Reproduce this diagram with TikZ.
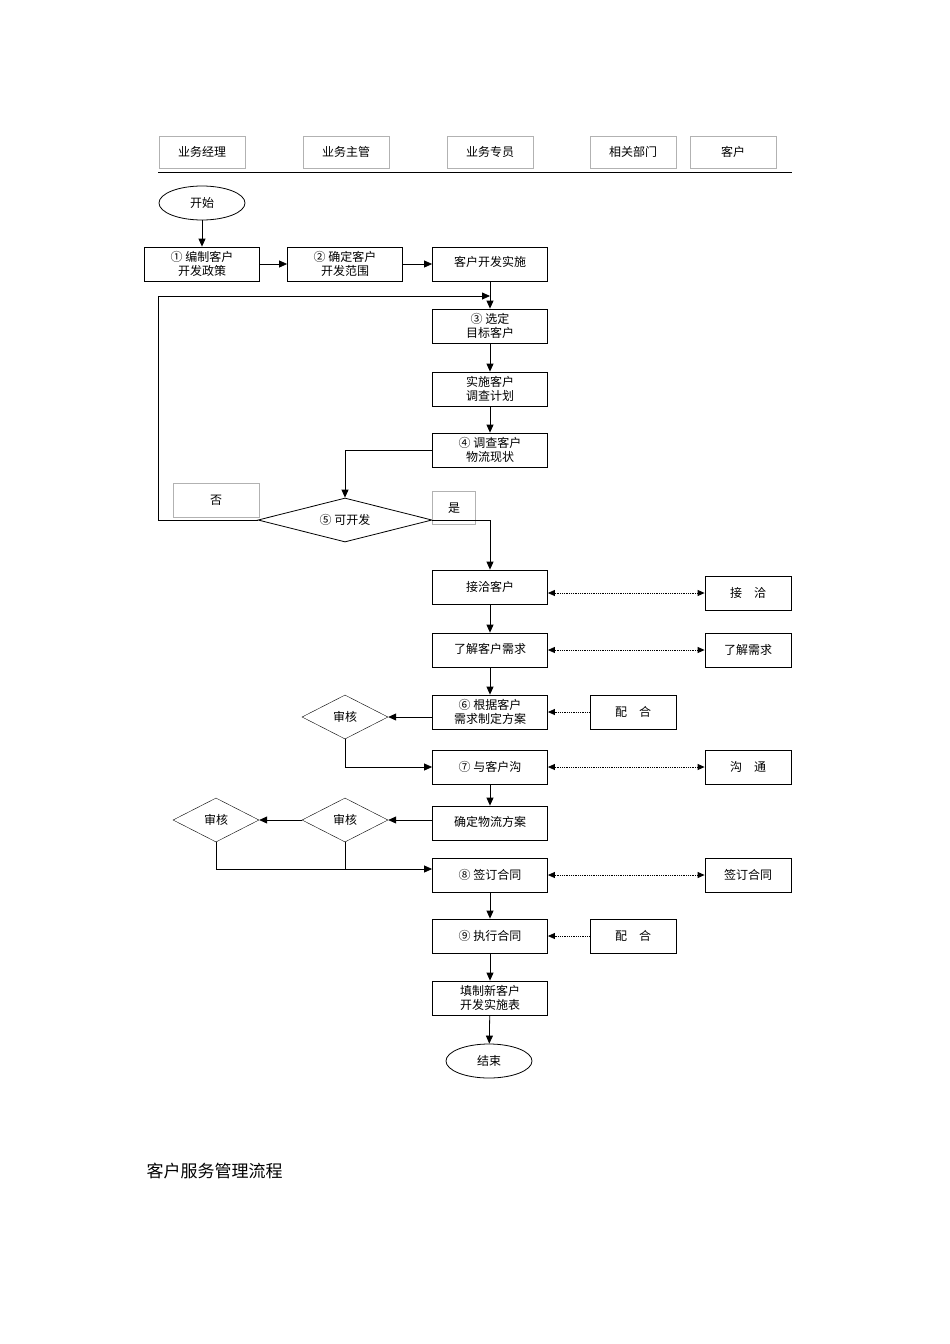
\documentclass[tikz,border=0pt]{standalone}
\usepackage{fontspec}
\setmainfont{Noto Sans CJK SC}
\usetikzlibrary{arrows.meta,shapes.geometric}
\begin{document}
\begin{tikzpicture}[x=1pt,y=-1pt,
 box/.style={draw,thick,minimum width=115pt,minimum height=34pt,inner sep=0pt,font=\fontsize{12}{14}\selectfont,align=center},
 side/.style={draw,thick,minimum width=86pt,minimum height=34pt,inner sep=0pt,font=\fontsize{12}{14}\selectfont},
 head/.style={draw=black!30,minimum width=86pt,minimum height=32pt,inner sep=0pt,font=\fontsize{12}{14}\selectfont},
 dia/.style={draw,diamond,aspect=2,inner sep=0pt,font=\fontsize{12}{14}\selectfont},
 arr/.style={thick,-{Triangle[length=8pt,width=7pt]}},
 dot/.style={densely dotted,thick,-{Triangle[length=7pt,width=6pt]}},
 ddot/.style={densely dotted,thick,{Triangle[length=7pt,width=6pt]}-{Triangle[length=7pt,width=6pt]}}]
\useasboundingbox (0,0) rectangle (950,1344);
\node[head] (h1) at (202,152) {业务经理};
\node[head] (h2) at (346,152) {业务主管};
\node[head] (h3) at (490,152) {业务专员};
\node[head] (h4) at (633,152) {相关部门};
\node[head] (h5) at (733,152) {客户};
\draw (158,172) -- (792,172);
\node[draw,thick,ellipse,minimum width=86pt,minimum height=34pt,font=\fontsize{12}{14}\selectfont] (st) at (202,203) {开始};
\node[box] (b1) at (202,264) {① 编制客户\\开发政策};
\node[box] (b2) at (345,264) {② 确定客户\\开发范围};
\node[box] (b3) at (490,264) {\\[-8pt]客户开发实施};
\node[box] (b4) at (490,326) {③ 选定\\目标客户};
\node[box] (b5) at (490,389) {实施客户\\调查计划};
\node[box] (b6) at (490,450) {④ 调查客户\\物流现状};
\node[dia,thick,minimum width=174pt,minimum height=44pt] (d5) at (345,520) {⑤ 可开发};
\node[head,minimum height=34pt] (no) at (216,500) {否};
\node[head,minimum width=43pt,minimum height=33pt] (yes) at (454,508) {是};
\node[box] (c1) at (490,587) {接洽客户};
\node[box] (c2) at (490,650) {\\[-6pt]了解客户需求};
\node[box] (c3) at (490,712) {⑥ 根据客户\\需求制定方案};
\node[box] (c4) at (490,767) {⑦ 与客户沟};
\node[box] (c5) at (490,823) {\\[-6pt]确定物流方案};
\node[box] (c6) at (490,875) {⑧ 签订合同};
\node[box] (c7) at (490,936) {⑨ 执行合同};
\node[box] (c8) at (490,998) {填制新客户\\开发实施表};
\node[draw,thick,ellipse,minimum width=86pt,minimum height=34pt,font=\fontsize{12}{14}\selectfont] (en) at (489,1061) {结束};
\node[side] (r1) at (748,593) {接\quad 洽};
\node[side] (r2) at (748,650) {了解需求};
\node[side] (r3) at (633,712) {配\quad 合};
\node[side] (r4) at (748,767) {沟\quad 通};
\node[side] (r5) at (748,875) {签订合同};
\node[side] (r6) at (633,936) {配\quad 合};
\node[dia,minimum width=86pt,minimum height=44pt] (a1) at (345,717) {审核};
\node[dia,minimum width=86pt,minimum height=44pt] (a2) at (345,820) {审核};
\node[dia,minimum width=86pt,minimum height=44pt] (a3) at (216,820) {审核};
\draw[arr] (st) -- (b1);
\draw[arr] (b1) -- (b2);
\draw[arr] (b2) -- (b3);
\draw[arr] (b3) -- (b4);
\draw[arr] (b4) -- (b5);
\draw[arr] (b5) -- (b6);
\draw[arr] (b6.west) -| (d5.north);
\draw[arr] (d5.west) -- (158,520) |- (490,296);
\draw[arr] (d5.east) -| (c1.north);
\draw[arr] (c1) -- (c2);
\draw[arr] (c2) -- (c3);
\draw[arr] (c4) -- (c5);
\draw[arr] (c6) -- (c7);
\draw[arr] (c7) -- (c8);
\draw[arr] (c8) -- (en);
\draw[ddot] (c1.east |- r1) -- (r1);
\draw[ddot] (c2) -- (r2);
\draw[dot] (r3) -- (c3);
\draw[ddot] (c4) -- (r4);
\draw[ddot] (c6) -- (r5);
\draw[dot] (r6) -- (c7);
\draw[arr] (c3.west |- a1) -- (a1.east);
\draw[arr] (a1.south) |- (c4.west);
\draw[arr] (c5.west |- a2) -- (a2.east);
\draw[arr] (a2.west) -- (a3.east);
\draw[arr] (a3.south) |- (c6.west |- 0,869);
\draw[thick] (a2.south) -- (345,869);
\node[anchor=west,font=\fontsize{17}{20}\selectfont] (t) at (143,1171) {客户服务管理流程};
\end{tikzpicture}
\end{document}
